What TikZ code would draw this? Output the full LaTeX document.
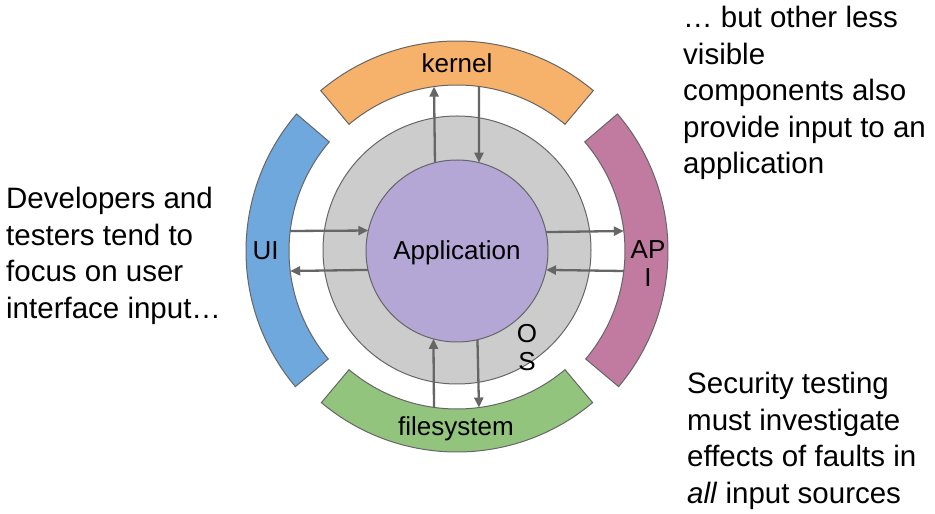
\documentclass[tikz,border=0pt]{standalone}
\usepackage{fontspec}
\setmainfont{Liberation Sans}
\usetikzlibrary{arrows.meta}
\definecolor{kernelc}{HTML}{F6B26B}
\definecolor{uic}{HTML}{6FA8DC}
\definecolor{apic}{HTML}{C27BA0}
\definecolor{fsc}{HTML}{93C47D}
\definecolor{appc}{HTML}{B4A7D6}
\definecolor{osc}{HTML}{CCCCCC}
\definecolor{ringline}{HTML}{666666}
\definecolor{arrowc}{HTML}{666666}
\begin{document}
\begin{tikzpicture}[x=1pt,y=1pt,
  ring/.style={draw=ringline, line width=1pt},
  flow/.style={draw=arrowc, line width=2.3pt, -{Triangle[length=10pt,width=9pt]}},
  lbl/.style={font=\fontsize{26}{29}\selectfont, inner sep=0pt, anchor=base},
  para/.style={font=\fontsize{29.5}{36.5}\selectfont, align=left, inner sep=0pt, anchor=base west}]
\fill[white] (0,0) rectangle (935,514);
\useasboundingbox (0,0) rectangle (935,514);
\coordinate (kc) at (457,261);
\coordinate (uc) at (457,263);
\coordinate (fc) at (457,273);
% OS and application
\node[circle, minimum size=268pt, inner sep=0pt, outer sep=0pt, fill=osc, ring] (os) at (457,264) {};
\node[circle, minimum size=182pt, inner sep=0pt, outer sep=0pt, fill=appc, ring] (app) at (457,263) {};
% rings
\filldraw[ring, fill=kernelc] ([shift={(kc)}]50:212) arc[start angle=50,end angle=130,radius=212] -- ([shift={(kc)}]130:168) arc[start angle=130,end angle=50,radius=168] -- cycle;
\filldraw[ring, fill=uic] ([shift={(uc)}]139.5:211) arc[start angle=139.5,end angle=220,radius=211] -- ([shift={(uc)}]220:168) arc[start angle=220,end angle=139.5,radius=168] -- cycle;
\filldraw[ring, fill=apic] ([shift={(uc)}]-40:211) arc[start angle=-40,end angle=40.5,radius=211] -- ([shift={(uc)}]40.5:168) arc[start angle=40.5,end angle=-40,radius=168] -- cycle;
\filldraw[ring, fill=fsc] ([shift={(fc)}]230:211) arc[start angle=230,end angle=310,radius=211] -- ([shift={(fc)}]310:168) arc[start angle=310,end angle=230,radius=168] -- cycle;
% ring end points of connectors
\coordinate (kin1) at ([shift={(kc)}]97.87:168);
\coordinate (kin2) at ([shift={(kc)}]82.48:168);
\coordinate (uin1) at ([shift={(uc)}]173.16:168);
\coordinate (uin2) at ([shift={(uc)}]186.84:168);
\coordinate (ain1) at ([shift={(uc)}]6.84:168);
\coordinate (ain2) at ([shift={(uc)}]-6.84:168);
\coordinate (fin1) at ([shift={(fc)}]262.13:168);
\coordinate (fin2) at ([shift={(fc)}]277.52:168);
% connectors
\draw[flow] (app.104.64) -- (kin1);
\draw[flow] (kin2) -- (app.76.01);
\draw[flow] (uin1) -- (app.167.30);
\draw[flow] (app.192.70) -- (uin2);
\draw[flow] (app.12.70) -- (ain1);
\draw[flow] (ain2) -- (app.-12.70);
\draw[flow] (fin1) -- (app.255.36);
\draw[flow] (app.283.99) -- (fin2);
% labels
\node[lbl] (kernel) at (457,441) {kernel};
\node[lbl] (ui) at (265.5,254) {UI};
\node[lbl] (apptext) at (457,254) {Application};
\node[lbl] (ap1) at (648,255) {AP};
\node[lbl] (ap2) at (648,227) {I};
\node[lbl] (os1) at (527,171) {O};
\node[lbl] (os2) at (527,143) {S};
\node[lbl] (fs) at (456,78) {filesystem};
% side texts (anchor at baseline of last line)
\node[para] (left) at (6,195.5) {Developers and\\testers tend to\\focus on user\\interface input…};
\node[para] (right) at (683,340) {… but other less\\visible\\components also\\provide input to an\\application};
\node[para] (bottom) at (687,10.5) {Security testing\\must investigate\\effects of faults in\\\textit{all} input sources};
\end{tikzpicture}
\end{document}
